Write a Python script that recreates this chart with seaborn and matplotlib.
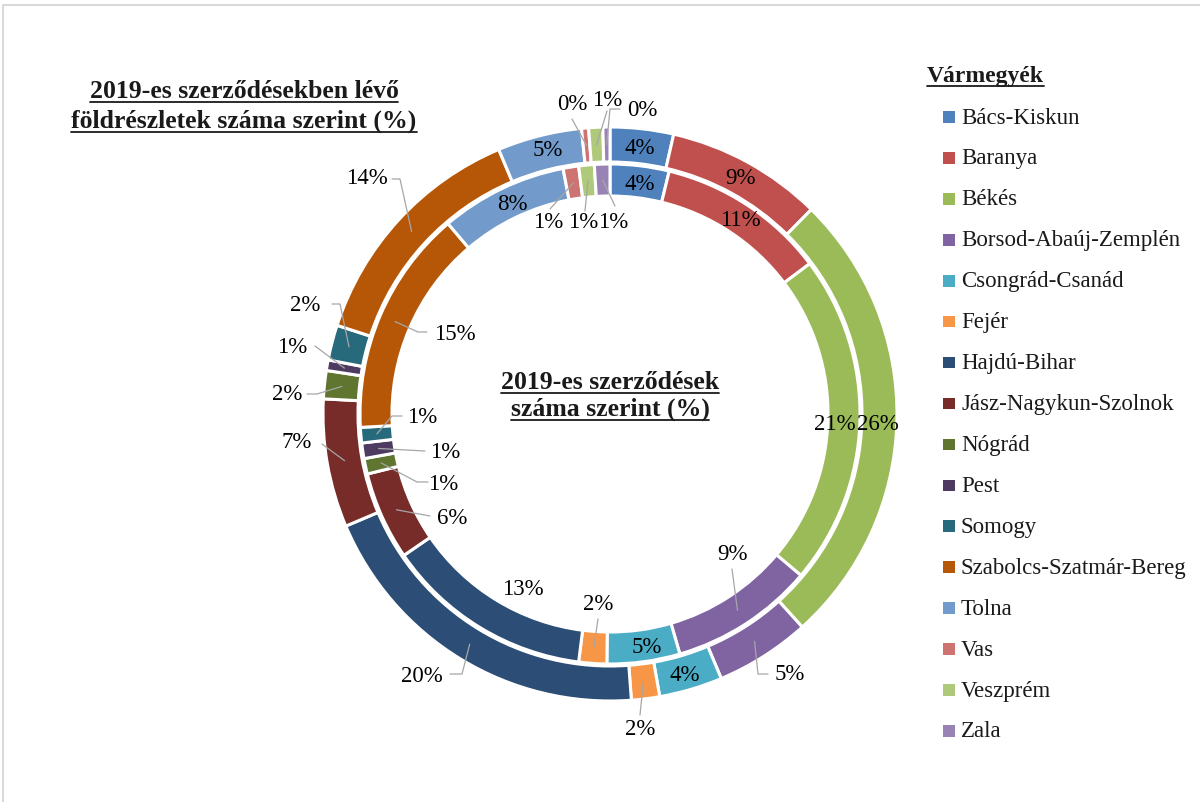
import matplotlib
matplotlib.use("Agg")
import matplotlib.pyplot as plt
import seaborn as sns
import numpy as np

# ---------------- data ----------------
counties = ["Bács-Kiskun", "Baranya", "Békés", "Borsod-Abaúj-Zemplén", "Csongrád-Csanád",
            "Fejér", "Hajdú-Bihar", "Jász-Nagykun-Szolnok", "Nógrád", "Pest", "Somogy",
            "Szabolcs-Szatmár-Bereg", "Tolna", "Vas", "Veszprém", "Zala"]
# outer ring: share of land parcels in 2019 contracts (%)
parcels_pct = [3.6, 8.9, 26.2, 5.4, 3.6, 1.6, 20.0, 7.3, 1.6, 0.6, 2.0, 13.8, 4.8, 0.4, 0.8, 0.4]
# inner ring: share of 2019 contracts (%)
contracts_pct = [3.8, 10.9, 21.4, 9.3, 4.7, 1.8, 13.4, 5.7, 1.0, 1.0, 1.0, 14.6, 8.2, 1.0, 1.0, 1.0]

title_outer = ["2019-es szerződésekben lévő", "földrészletek száma szerint (%)"]
title_inner = ["2019-es szerződések", "száma szerint (%)"]
legend_title = "Vármegyék"

colors_hex = ["#4F81BD", "#C0504D", "#9BBB59", "#8064A2", "#4BACC6", "#F79646",
              "#2C4D75", "#772C2A", "#5F7530", "#4D3B62", "#276A7C", "#B65708",
              "#729ACA", "#CD7371", "#AFC97A", "#9983B5"]

# ---------------- layout (pixel coords, origin top-left) ----------------
W, H = 1200, 803
CX, CY = 610, 415
R_OUT, W_OUT = 287, 35
R_IN, W_IN = 250, 32

outer_label_pos = [(640, 148), (740, 178), (878, 425), (790, 675), (685, 676), (640, 730),
                   (422, 677), (297, 443), (287, 395), (292, 348), (305, 306), (367, 179),
                   (548, 150), (572, 105), (607, 100), (642, 110)]
outer_leaders = [None, None, None, [(758, 675), (768, 675)], None, [(640, 716)],
                 [(462, 675), (450, 675)], [(322, 445)], [(317, 395), (307, 395)],
                 [(315, 347)], [(340, 305), (332, 305)], [(400, 180), (392, 180)],
                 None, [(572, 120)], [(607, 112)], [(610, 110), (620, 110)]]

inner_label_pos = [(640, 185), (740, 220), (835, 425), (732, 555), (647, 648), (598, 605),
                   (523, 590), (452, 518), (443, 485), (445, 453), (422, 418), (455, 335),
                   (512, 205), (548, 223), (583, 223), (613, 223)]
inner_leaders = [None, None, None, [(732, 570)], None, [(598, 620)], None,
                 [(430, 517)], [(417, 483), (428, 483)], [(425, 452)],
                 [(392, 417), (402, 417)], [(418, 333), (427, 333)], None,
                 [(550, 210)], [(585, 212)], [(615, 207)]]

# ---------------- style ----------------
sns.set_theme(style="white")
plt.rcParams["font.family"] = ["Liberation Serif", "DejaVu Serif"]
palette = sns.color_palette(colors_hex)

fig = plt.figure(figsize=(W / 100, H / 100), dpi=100)
ax = fig.add_axes([0, 0, 1, 1])


def P(x, y):
    """pixel (top-left origin) -> data coords"""
    return x, H - y


center = P(CX, CY)
w_out, _ = ax.pie(parcels_pct, radius=R_OUT, center=center, startangle=90, counterclock=False,
                  colors=palette, normalize=True,
                  wedgeprops=dict(width=W_OUT, edgecolor="white", linewidth=2.2))
w_in, _ = ax.pie(contracts_pct, radius=R_IN, center=center, startangle=90, counterclock=False,
                 colors=palette, normalize=True,
                 wedgeprops=dict(width=W_IN, edgecolor="white", linewidth=2.2))

ax.set_aspect("auto")
ax.set_xlim(0, W)
ax.set_ylim(0, H)
ax.axis("off")

LBL_FS = 16.5
LEADER_C = "#A6A6A6"


def draw_labels(wedges, vals, rad, width, positions, leaders):
    rmid = rad - width / 2
    for wdg, v, pos, ld in zip(wedges, vals, positions, leaders):
        tx, ty = P(*pos)
        ax.text(tx, ty, f"{v:.0f}%", ha="center", va="center", fontsize=LBL_FS,
                color="black", zorder=5)
        if ld:
            mid = np.deg2rad((wdg.theta1 + wdg.theta2) / 2)
            sx = center[0] + rmid * np.cos(mid)
            sy = center[1] + rmid * np.sin(mid)
            pts = [(sx, sy)] + [P(*p) for p in ld]
            xs, ys = zip(*pts)
            ax.plot(xs, ys, color=LEADER_C, lw=0.9, zorder=4)


draw_labels(w_out, parcels_pct, R_OUT, W_OUT, outer_label_pos, outer_leaders)
draw_labels(w_in, contracts_pct, R_IN, W_IN, inner_label_pos, inner_leaders)

# titles (bold, underlined)
title_texts = []
TFS = 18.5
for i, line in enumerate(title_outer):
    t = ax.text(*P(244, 98 + i * 30), line, ha="center", va="baseline", fontsize=TFS,
                fontweight="bold", color="#1a1a1a")
    title_texts.append(t)
for i, line in enumerate(title_inner):
    t = ax.text(*P(610, 389 + i * 27), line, ha="center", va="baseline", fontsize=TFS,
                fontweight="bold", color="#1a1a1a")
    title_texts.append(t)

# legend (manual, Excel-like)
lt = ax.text(*P(927, 82), legend_title, ha="left", va="baseline", fontsize=17,
             fontweight="bold", color="#1a1a1a")
title_texts.append(lt)
for k, (name, col) in enumerate(zip(counties, palette)):
    yk = 118 + 40.93 * k
    ax.scatter(*P(949, yk), marker="s", s=70, color=col, edgecolors="none", zorder=5)
    ax.text(*P(961, yk), name, ha="left", va="center", fontsize=LBL_FS, color="#1a1a1a")

# underlines
fig.canvas.draw()
renderer = fig.canvas.get_renderer()
for t in title_texts:
    bb = t.get_window_extent(renderer)
    _, by = t.get_position()
    ax.plot([bb.x0, bb.x1], [by - 5, by - 5], color="#1a1a1a", lw=1.3)

# chart-area border (light gray, Excel style)
ax.plot([3, 3, W], [0, H - 6, H - 6], color="#D9D9D9", lw=1.5)

fig.savefig("out.png", dpi=100)
